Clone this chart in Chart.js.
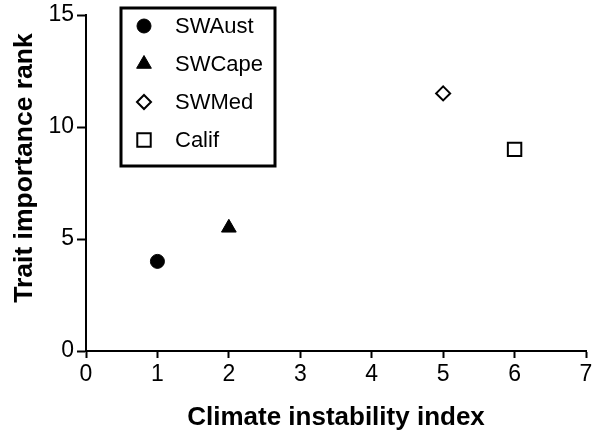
<!DOCTYPE html>
<html>
<head>
<meta charset="utf-8">
<script src="https://cdn.jsdelivr.net/npm/chart.js@4/dist/chart.umd.min.js"></script>
<style>
  html, body { margin: 0; padding: 0; background: #fff; }
  #wrap { width: 592px; height: 433px; }
</style>
</head>
<body>
<div id="wrap"><canvas id="traitChart" width="592" height="433"></canvas></div>
<script>
// Data
const regions = ['SWAust', 'SWCape', 'SWMed', 'Calif'];
const instability = [1, 2, 5, 6];
const traitRank = [4, 5.5, 11.5, 9];
const markerStyles = ['circle', 'triangle', 'rectRot', 'rect'];
const markerFilled = [true, true, false, false];
const markerRadius = [7, 8.5, 7, 9.5];
const xTicks = [0, 1, 2, 3, 4, 5, 6, 7];
const yTicks = [0, 5, 10, 15];

const FONT = "'Liberation Sans', Arial, sans-serif";

/* Draws the boxed legend inside the plot area and the y-axis title
*/
const legendBoxPlugin = {
    id: 'legendBox',
    afterDraw: (chart) => {
        const ctx = chart.ctx;
        const area = chart.chartArea;

        // legend frame
        const left = area.left + 35;
        const top = 8;
        const w = 154;
        const h = 158;
        ctx.save();
        ctx.strokeStyle = '#000';
        ctx.lineWidth = 3;
        ctx.strokeRect(left, top, w, h);

        // legend rows
        ctx.font = '22px ' + FONT;
        ctx.textBaseline = 'middle';
        ctx.textAlign = 'left';
        chart.data.datasets.forEach((ds, i) => {
            const y = top + 18 + i * 38;
            ctx.fillStyle = ds.pointBackgroundColor;
            ctx.strokeStyle = '#000';
            ctx.lineWidth = ds.pointBorderWidth;
            Chart.helpers.drawPoint(ctx, {
                pointStyle: ds.pointStyle,
                radius: ds.pointRadius,
                borderWidth: ds.pointBorderWidth,
                rotation: 0
            }, left + 23, y);
            ctx.fillStyle = '#000';
            ctx.fillText(ds.label, left + 54, y + 1);
        });

        // y-axis title
        ctx.translate(25, 168);
        ctx.rotate(-Math.PI / 2);
        ctx.font = 'bold 26.5px ' + FONT;
        ctx.textAlign = 'center';
        ctx.textBaseline = 'middle';
        ctx.fillText('Trait importance rank', 0, 0);
        ctx.restore();
    }
};

const buildTraitChart = () => {

    const datasets = regions.map((name, i) => ({
        label: name,
        data: [{ x: instability[i], y: traitRank[i] }],
        pointStyle: markerStyles[i],
        pointRadius: markerRadius[i],
        pointHoverRadius: markerRadius[i],
        pointBackgroundColor: markerFilled[i] ? '#000' : '#fff',
        pointBorderColor: '#000',
        pointBorderWidth: markerFilled[i] ? 1 : 2
    }));

    const config = {
        type: 'scatter',
        data: { datasets: datasets },
        options: {
            responsive: false,
            animation: false,
            events: [],
            layout: {
                autoPadding: false,
                padding: { top: 15, right: 6, left: 0, bottom: 0 }
            },
            plugins: {
                legend: { display: false },
                tooltip: { enabled: false }
            },
            scales: {
                x: {
                    type: 'linear',
                    min: 0,
                    max: 7,
                    afterBuildTicks: (scale) => {
                        scale.ticks = xTicks.map(v => ({ value: v }));
                    },
                    afterFit: (scale) => {
                        scale.height = 82;
                        scale.paddingRight = 0;
                        scale.paddingLeft = 0;
                    },
                    border: { display: true, color: '#000', width: 2 },
                    grid: {
                        drawOnChartArea: false,
                        drawTicks: true,
                        tickLength: 7,
                        tickWidth: 2,
                        tickColor: '#000'
                    },
                    ticks: {
                        color: '#000',
                        padding: 3,
                        maxRotation: 0,
                        font: { family: FONT, size: 23 }
                    },
                    title: {
                        display: true,
                        text: 'Climate instability index',
                        color: '#000',
                        padding: { top: 10, bottom: 0 },
                        font: { family: FONT, size: 26, weight: 'bold' }
                    }
                },
                y: {
                    type: 'linear',
                    min: 0,
                    max: 15,
                    afterBuildTicks: (scale) => {
                        scale.ticks = yTicks.map(v => ({ value: v }));
                    },
                    afterFit: (scale) => {
                        scale.width = 86;
                        scale.paddingTop = 0;
                        scale.paddingBottom = 0;
                    },
                    border: { display: true, color: '#000', width: 2 },
                    grid: {
                        drawOnChartArea: false,
                        drawTicks: true,
                        tickLength: 9,
                        tickWidth: 2,
                        tickColor: '#000'
                    },
                    ticks: {
                        color: '#000',
                        padding: 3,
                        font: { family: FONT, size: 23 }
                    }
                }
            }
        },
        plugins: [legendBoxPlugin]
    };

    const ctx = document.getElementById('traitChart').getContext('2d');
    const traitChart = new Chart(ctx, config);
}

document.addEventListener("DOMContentLoaded", () => {
    buildTraitChart();
});
</script>
</body>
</html>
